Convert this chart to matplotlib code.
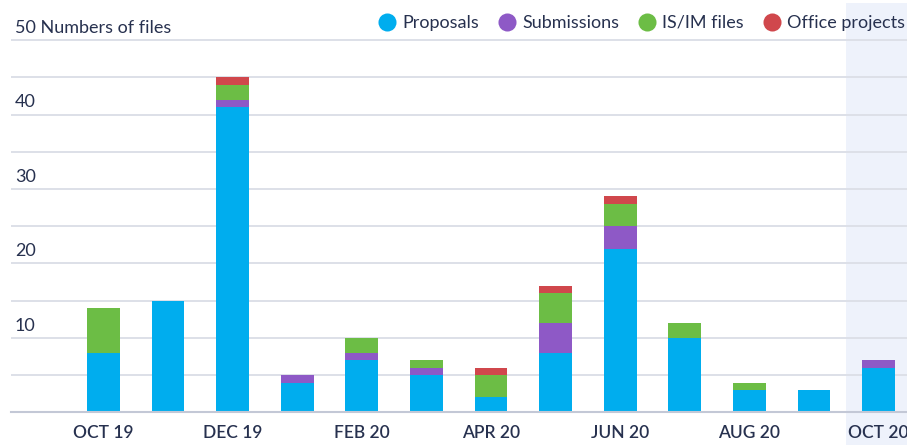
import numpy as np
import matplotlib.pyplot as plt
from matplotlib.patches import Rectangle
from matplotlib.lines import Line2D
from matplotlib.transforms import blended_transform_factory

# data
months = ['OCT 19', 'NOV 19', 'DEC 19', 'JAN 20', 'FEB 20', 'MAR 20', 'APR 20',
          'MAY 20', 'JUN 20', 'JUL 20', 'AUG 20', 'SEP 20', 'OCT 20']
proposals = [8, 15, 41, 4, 7, 5, 2, 8, 22, 10, 3, 3, 6]
submissions = [0, 0, 1, 1, 1, 1, 0, 4, 3, 0, 0, 0, 1]
isim_files = [6, 0, 2, 0, 2, 1, 3, 4, 3, 2, 1, 0, 0]
office_projects = [0, 0, 1, 0, 0, 0, 1, 1, 1, 0, 0, 0, 0]
y_labels = [10, 20, 30, 40, 50]

series = [('Proposals', proposals, '#00adee'),
          ('Submissions', submissions, '#8e59c6'),
          ('IS/IM files', isim_files, '#6cbd45'),
          ('Office projects', office_projects, '#d0474c')]

text_color = '#27314f'
plt.rcParams['font.family'] = ['Lato', 'DejaVu Sans']

W, H = 907, 445
fig = plt.figure(figsize=(W / 100, H / 100), dpi=100)
fig.patch.set_facecolor('white')

ymax = 50.3
base_px = 412.3
px_per_unit = 7.445
top_px = base_px - ymax * px_per_unit
ax = fig.add_axes([11 / W, (H - base_px) / H, (W - 11) / W, (base_px - top_px) / H])
ax.set_facecolor('none')

x = np.arange(len(months))
ax.set_xlim(-1.43, len(months) - 1 + 0.44)
ax.set_ylim(0, ymax)

# highlighted current month
band = Rectangle((len(months) - 1.5, 0), 1, 0.993,
                 transform=blended_transform_factory(ax.transData, fig.transFigure),
                 facecolor='#eef2fb', edgecolor='none', zorder=0, clip_on=False)
ax.add_patch(band)

for v in range(5, 51, 5):
    ax.axhline(v, color='#dde0e8', lw=1.4, zorder=1)

bottom = np.zeros(len(months))
for name, vals, col in series:
    ax.bar(x, vals, width=0.51, bottom=bottom, color=col, zorder=3)
    bottom += np.array(vals)

for s in ['top', 'right', 'left']:
    ax.spines[s].set_visible(False)
ax.spines['bottom'].set_color('#c3c8d6')
ax.spines['bottom'].set_linewidth(1.5)
ax.spines['bottom'].set_zorder(4)

ax.set_yticks([])
ax.set_xticks(x[::2])
ax.set_xticklabels(months[::2], fontsize=12.5, fontweight='semibold', color=text_color)
ax.tick_params(axis='x', length=0, pad=9)

ytr = ax.get_yaxis_transform()
for v in y_labels:
    lab = f'{v} Numbers of files' if v == 50 else str(v)
    ax.text(4 / (W - 11), v + 0.55, lab, transform=ytr, fontsize=13,
            color=text_color, ha='left', va='bottom')

handles = [Line2D([], [], marker='o', ls='none', markersize=13, color=c,
                  markeredgewidth=0) for _, _, c in series]
fig.legend(handles, [s[0] for s in series], loc='center right',
           bbox_to_anchor=(1.016, 1 - 23 / H), ncol=4, frameon=False, fontsize=13,
           labelcolor=text_color, handletextpad=0.35, columnspacing=1.05,
           handlelength=1.0)

fig.savefig('out.png', dpi=100)
